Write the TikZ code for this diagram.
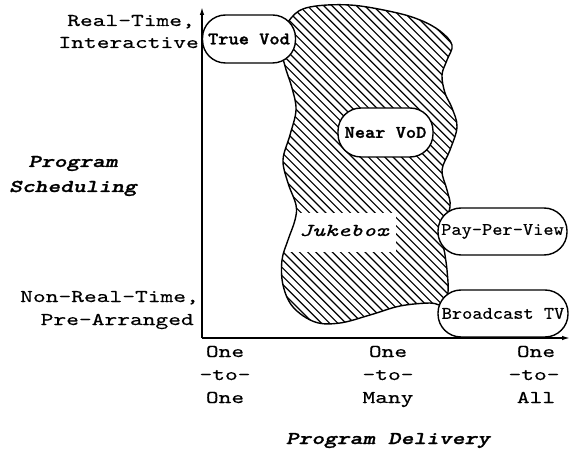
\documentclass[tikz,border=0pt]{standalone}
\usepackage{fontspec}
\newfontfamily\axfont{lmmono10}[Extension=.otf, UprightFont=*-regular, ItalicFont=*-italic,
  BoldFont=lmmonolt10-bold, BoldItalicFont=lmmonolt10-boldoblique, FakeStretch=1.35,
  UprightFeatures={FakeBold=0.3}, ItalicFeatures={FakeBold=0.3},
  BoldFeatures={FakeBold=1.2}, BoldItalicFeatures={FakeBold=1.2}]
\newfontfamily\bxfont{lmmono10}[Extension=.otf, UprightFont=*-regular, ItalicFont=*-italic,
  BoldFont=lmmonolt10-bold, BoldItalicFont=lmmonolt10-boldoblique, FakeStretch=1.1,
  UprightFeatures={FakeBold=0.3}, BoldFeatures={FakeBold=1.4}]
\usetikzlibrary{arrows.meta}
\begin{document}
\begin{tikzpicture}[x=1pt,y=-1pt,
  axis/.style={line width=1.4pt},
  vbox/.style={draw, line width=1.4pt, fill=white, rectangle, rounded corners=23pt,
     inner sep=0pt, minimum height=48pt, font=\bxfont\fontsize{17.7}{18}\selectfont},
  vboxb/.style={vbox, font=\bxfont\bfseries\fontsize{17.7}{18}\selectfont},
  lab/.style={inner sep=0pt, font=\axfont\fontsize{18}{20}\selectfont},
  ttl/.style={inner sep=0pt, font=\axfont\bfseries\itshape\fontsize{18}{20}\selectfont},
  hatch/.style={line width=1.15pt},
  blobline/.style={line width=1.4pt}
]
\fill[white] (0,0) rectangle (570,454);
\useasboundingbox (0,0) rectangle (570,454);

% hatched region
\begin{scope}
\clip plot[smooth cycle, tension=0.6] coordinates {
 (292,17) (310,7) (350,5) (393,12) (420,20) (440,31) (452,45) (447,60) (442,75)
 (445,93) (452,108) (457,127) (450,150) (442,170) (447,190) (450,207)
 (442,232) (445,255) (447,270) (448,292) (443,305) (430,303) (400,306)
 (370,315) (340,323) (315,322) (293,307) (283,285) (282,260) (288,240)
 (295,220) (296,205) (288,183) (283,160) (290,135) (296,110) (292,88)
 (285,66) (280,40)};
\foreach \c in {-420,-411.8,...,470} \draw[hatch] (\c,0) -- +(420,420);
\fill[white] (278,213) rectangle (396,252);
\end{scope}
\draw[blobline] plot[smooth cycle, tension=0.6] coordinates {
 (292,17) (310,7) (350,5) (393,12) (420,20) (440,31) (452,45) (447,60) (442,75)
 (445,93) (452,108) (457,127) (450,150) (442,170) (447,190) (450,207)
 (442,232) (445,255) (447,270) (448,292) (443,305) (430,303) (400,306)
 (370,315) (340,323) (315,322) (293,307) (283,285) (282,260) (288,240)
 (295,220) (296,205) (288,183) (283,160) (290,135) (296,110) (292,88)
 (285,66) (280,40)};

\node[lab, font=\axfont\itshape\fontsize{18}{20}\selectfont, anchor=base] (juke) at (344,236) {Jukebox};

% boxes
\node[vboxb, minimum width=93pt] (truevod) at (249,39) {True Vod};
\node[vboxb, minimum width=95pt, minimum height=49pt] (nearvod) at (385.5,132.5) {Near VoD};
\node[vbox, minimum width=129pt, minimum height=47pt] (ppv) at (502.5,231.5) {Pay-Per-View};
\node[vbox, minimum width=130pt, minimum height=47pt] (btv) at (503,313.5) {Broadcast TV};

% axes
\coordinate (O) at (202,338);
\coordinate (ytip) at (202,7);
\coordinate (xtip) at (570,338);
\draw[axis, -{Latex[length=8pt,width=4.5pt]}] (O) -- (ytip);
\draw[axis, -{Latex[length=8pt,width=4.5pt]}] (O) -- (xtip);

% y labels
\node[lab, anchor=base east] (rt) at (195,26) {Real-Time,};
\node[lab, anchor=base east] (ia) at (199,48) {Interactive};
\node[lab, anchor=base east] (nrt) at (199,302) {Non-Real-Time,};
\node[lab, anchor=base east] (pa) at (194,325) {Pre-Arranged};
\node[ttl, anchor=base] (ps1) at (73,167) {Program};
\node[ttl, anchor=base] (ps2) at (73,192) {Scheduling};

% x labels
\node[lab, anchor=base] (a1) at (225,357) {One};
\node[lab, anchor=base] (a2) at (225,380) {-to-};
\node[lab, anchor=base] (a3) at (225,403) {One};
\node[lab, anchor=base] (b1) at (388,357) {One};
\node[lab, anchor=base] (b2) at (388,380) {-to-};
\node[lab, anchor=base] (b3) at (388,403) {Many};
\node[lab, anchor=base] (c1) at (536,357) {One};
\node[lab, anchor=base] (c2) at (534,380) {-to-};
\node[lab, anchor=base] (c3) at (536,403) {All};
\node[ttl, anchor=base] (pd) at (388,444) {Program Delivery};
\end{tikzpicture}
\end{document}
